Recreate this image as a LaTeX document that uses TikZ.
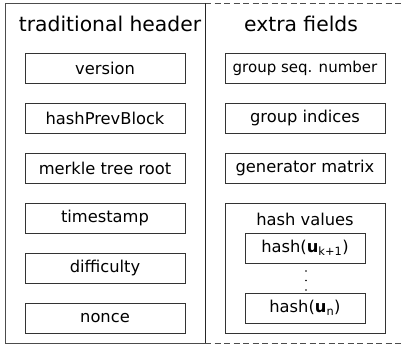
\documentclass[tikz,border=0pt]{standalone}
\usepackage{fontspec}
\setmainfont{DejaVu Sans}
\begin{document}
\begin{tikzpicture}[x=1pt,y=-1pt,
  fieldbox/.style={draw=black!80,line width=0.8pt,minimum width=160pt,minimum height=30pt,inner sep=0pt,font=\fontsize{16.3}{19}\selectfont},
  innerbox/.style={draw=black!80,line width=0.8pt,minimum width=120pt,minimum height=30pt,inner sep=0pt,font=\fontsize{16.3}{19}\selectfont},
  titletext/.style={font=\fontsize{20.3}{23}\selectfont,inner sep=0pt},
  subtitle/.style={font=\fontsize{16.3}{19}\selectfont,inner sep=0pt},
  dotmark/.style={circle,fill=black,inner sep=0pt,minimum size=1.6pt}]
\useasboundingbox (0,0) rectangle (401,346);
% outer frames
\draw[black!70,line width=0.8pt] (205,3) -- (5,3) -- (5,343) -- (205,343);
\draw[black!70,line width=0.9pt,dash pattern=on 6pt off 3.5pt] (205,3) -- (401,3);
\draw[black!70,line width=0.9pt,dash pattern=on 6pt off 3.5pt] (205,343) -- (401,343);
\draw[black!85,line width=0.8pt] (205,3) -- (205,343);
% titles
\node[titletext] (th) at (110,24) {traditional header};
\node[titletext] (ef) at (301,24) {extra fields};
% left column
\node[fieldbox] (ver) at (105,68) {version};
\node[fieldbox] (hpb) at (105,118) {hashPrevBlock};
\node[fieldbox] (mtr) at (105,168) {merkle tree root};
\node[fieldbox] (ts) at (105,218) {timestamp};
\node[fieldbox] (dif) at (105,268) {difficulty};
\node[fieldbox] (non) at (105,318) {nonce};
% right column
\node[fieldbox,font=\fontsize{15}{18}\selectfont] (gsn) at (305,68) {group seq. number};
\node[fieldbox] (gi) at (305,118) {group indices};
\node[fieldbox] (gm) at (305,168) {generator matrix};
\node[fieldbox,minimum height=130pt] (hv) at (305,268) {};
\node[subtitle] (hvt) at (305,219) {hash values};
\node[innerbox] (h1) at (305,248) {hash(\textbf{u}\textsubscript{k+1})};
\node[innerbox] (hn) at (305,308) {hash(\textbf{u}\textsubscript{n})};
\node[dotmark] (d1) at (306,271) {};
\node[dotmark] (d2) at (306,280.5) {};
\node[dotmark] (d3) at (306,290) {};
\end{tikzpicture}
\end{document}
